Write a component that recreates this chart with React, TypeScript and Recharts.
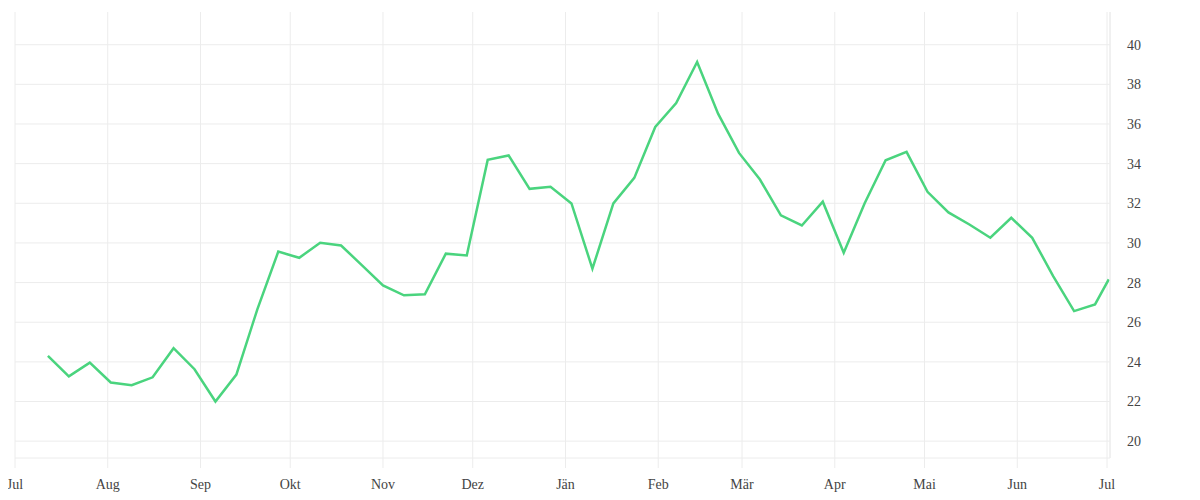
import { LineChart, Line, XAxis, YAxis, CartesianGrid, ReferenceLine } from 'recharts';

// weekly readings, plus the last one on 1 July
const dates = [
  '2022-07-12', '2022-07-19', '2022-07-26', '2022-08-02', '2022-08-09', '2022-08-16',
  '2022-08-23', '2022-08-30', '2022-09-06', '2022-09-13', '2022-09-20', '2022-09-27',
  '2022-10-04', '2022-10-11', '2022-10-18', '2022-10-25', '2022-11-01', '2022-11-08',
  '2022-11-15', '2022-11-22', '2022-11-29', '2022-12-06', '2022-12-13', '2022-12-20',
  '2022-12-27', '2023-01-03', '2023-01-10', '2023-01-17', '2023-01-24', '2023-01-31',
  '2023-02-07', '2023-02-14', '2023-02-21', '2023-02-28', '2023-03-07', '2023-03-14',
  '2023-03-21', '2023-03-28', '2023-04-04', '2023-04-11', '2023-04-18', '2023-04-25',
  '2023-05-02', '2023-05-09', '2023-05-16', '2023-05-23', '2023-05-30', '2023-06-06',
  '2023-06-13', '2023-06-20', '2023-06-27', '2023-07-01T14:00:00Z',
];

const values = [
  24.3, 23.27, 23.96, 22.96, 22.82, 23.22, 24.69, 23.63, 22.0, 23.36,
  26.65, 29.56, 29.25, 30.01, 29.87, 28.87, 27.86, 27.36, 27.41, 29.46,
  29.37, 34.19, 34.41, 32.73, 32.83, 31.99, 28.7, 31.99, 33.28, 35.85,
  37.06, 39.13, 36.52, 34.54, 33.2, 31.39, 30.88, 32.08, 29.51, 32.0,
  34.17, 34.59, 32.58, 31.54, 30.93, 30.26, 31.27, 30.26, 28.33, 26.56,
  26.9, 28.16,
];

const monthStarts = [
  '2022-07-01', '2022-08-01', '2022-09-01', '2022-10-01', '2022-11-01', '2022-12-01',
  '2023-01-01', '2023-02-01', '2023-03-01', '2023-04-01', '2023-05-01', '2023-06-01',
  '2023-07-01',
];
const monthLabels = ['Jul', 'Aug', 'Sep', 'Okt', 'Nov', 'Dez', 'Jän', 'Feb', 'Mär', 'Apr', 'Mai', 'Jun', 'Jul'];

const yTicks = [20, 22, 24, 26, 28, 30, 32, 34, 36, 38, 40];

const data = dates.map((d, i) => ({ t: new Date(d).getTime(), value: values[i] }));
const xTicks = monthStarts.map((d) => new Date(d).getTime());
const xDomain = [new Date('2022-07-01').getTime(), new Date('2023-07-02').getTime()];

const font = { fontFamily: '"Liberation Serif", serif', fontSize: 14, fill: '#444' };
const gridColor = '#ececec';

export default function App() {
  return (
    <LineChart
      width={1184}
      height={484}
      data={data}
      margin={{ top: 4, right: 0, left: 7, bottom: 0 }}
    >
      <CartesianGrid stroke={gridColor} horizontal={false} />
      {yTicks.map((v) => (
        <ReferenceLine key={v} y={v} stroke={gridColor} />
      ))}
      <XAxis
        dataKey="t"
        type="number"
        scale="time"
        domain={xDomain}
        ticks={xTicks}
        interval={0}
        height={34}
        tickSize={10}
        tickMargin={11}
        tick={font}
        tickLine={{ stroke: gridColor }}
        axisLine={{ stroke: gridColor }}
        tickFormatter={(v: number) => monthLabels[xTicks.indexOf(v)] ?? ''}
        allowDataOverflow
      />
      <YAxis
        orientation="right"
        domain={[19.15, 41.65]}
        ticks={yTicks}
        width={82}
        tickLine={false}
        tickSize={0}
        tickMargin={17}
        tick={font}
        axisLine={{ stroke: gridColor }}
        allowDataOverflow
      />
      <Line
        type="linear"
        dataKey="value"
        stroke="#4ad47e"
        strokeWidth={2.5}
        dot={false}
        isAnimationActive={false}
      />
    </LineChart>
  );
}
